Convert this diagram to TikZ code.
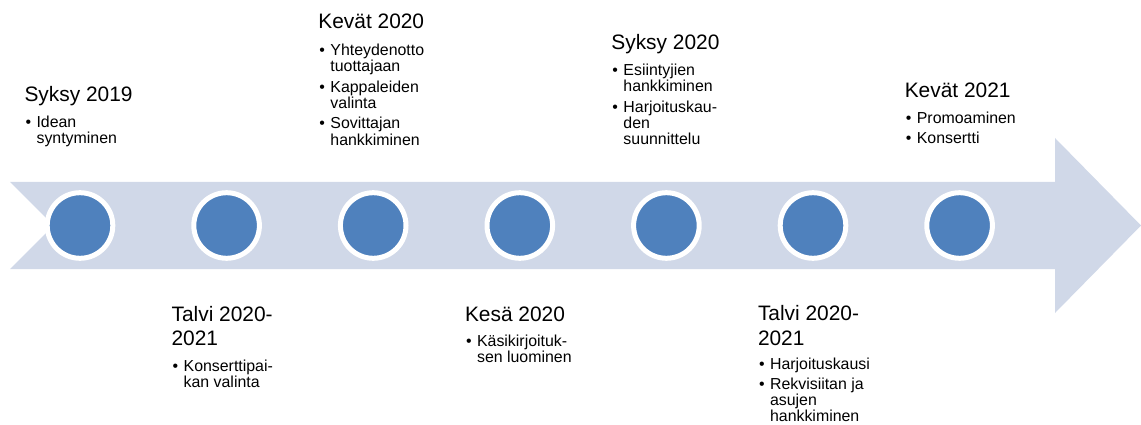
\documentclass[tikz,border=0pt]{standalone}
\usepackage{fontspec}
\setmainfont{Liberation Sans}
\definecolor{arrowfill}{HTML}{D0D8E8}
\definecolor{dotblue}{HTML}{4F81BD}
\tikzset{
  heading/.style={anchor=base west, inner sep=0pt, outer sep=0pt, font=\fontsize{20.9}{24.5}\selectfont},
  items/.style={anchor=base west, inner sep=0pt, outer sep=0pt, font=\fontsize{15.9}{16}\selectfont},
  dot/.style={circle, fill=dotblue, draw=white, line width=5pt, minimum size=65.6pt, inner sep=0pt}
}
\newcommand\hd[1]{\begin{tabular}[t]{@{}l@{}}#1\end{tabular}}
\newcommand\lst[1]{\begin{tabular}[t]{@{\hspace{1pt}}l@{\hspace{5.5pt}}l@{}}#1\end{tabular}}
\begin{document}
\begin{tikzpicture}[x=1pt,y=-1pt]
\useasboundingbox (0,0) rectangle (1141,425);
% arrow band
\fill[arrowfill] (10,182) -- (1055,182) -- (1055,138) -- (1141,225.5) -- (1055,313)
  -- (1055,269) -- (10,269) -- (53.5,225.5) -- cycle;
% dots
\foreach \i/\c in {1/80,2/226.6,3/373.2,4/519.8,5/666.4,6/813,7/959.6}
  \node[dot] (d\i) at (\c,225.5) {};
% group 1
\node[heading] (h1) at (24.5,102) {\hd{Syksy 2019}};
\node[items] (b1) at (24.5,127.5) {\lst{\textbullet & Idean\\ & syntyminen}};
% group 2
\node[heading] (h2) at (171.6,321) {\hd{Talvi 2020-\\2021}};
\node[items] (b2) at (171.6,371) {\lst{\textbullet & Konserttipai-\\ & kan valinta}};
% group 3
\node[heading] (h3) at (318.4,28.5) {\hd{Kevät 2020}};
\node[items] (b3) at (318.4,55.5) {\lst{\textbullet & Yhteydenotto\\ & tuottajaan\\[4pt]
  \textbullet & Kappaleiden\\ & valinta\\[4pt]
  \textbullet & Sovittajan\\ & hankkiminen}};
% group 4
\node[heading] (h4) at (465,321) {\hd{Kesä 2020}};
\node[items] (b4) at (465,346.5) {\lst{\textbullet & Käsikirjoituk-\\ & sen luominen}};
% group 5
\node[heading] (h5) at (611.4,49.5) {\hd{Syksy 2020}};
\node[items] (b5) at (611.4,75.5) {\lst{\textbullet & Esiintyjien\\ & hankkiminen\\[4pt]
  \textbullet & Harjoituskau-\\ & den\\ & suunnittelu}};
% group 6
\node[heading] (h6) at (758,320.5) {\hd{Talvi 2020-\\2021}};
\node[items] (b6) at (758,369.5) {\lst{\textbullet & Harjoituskausi\\[3.5pt]
  \textbullet & Rekvisiitan ja\\ & asujen\\ & hankkiminen}};
% group 7
\node[heading] (h7) at (904.8,97.5) {\hd{Kevät 2021}};
\node[items] (b7) at (904.8,123.5) {\lst{\textbullet & Promoaminen\\[4pt]
  \textbullet & Konsertti}};
\end{tikzpicture}
\end{document}
